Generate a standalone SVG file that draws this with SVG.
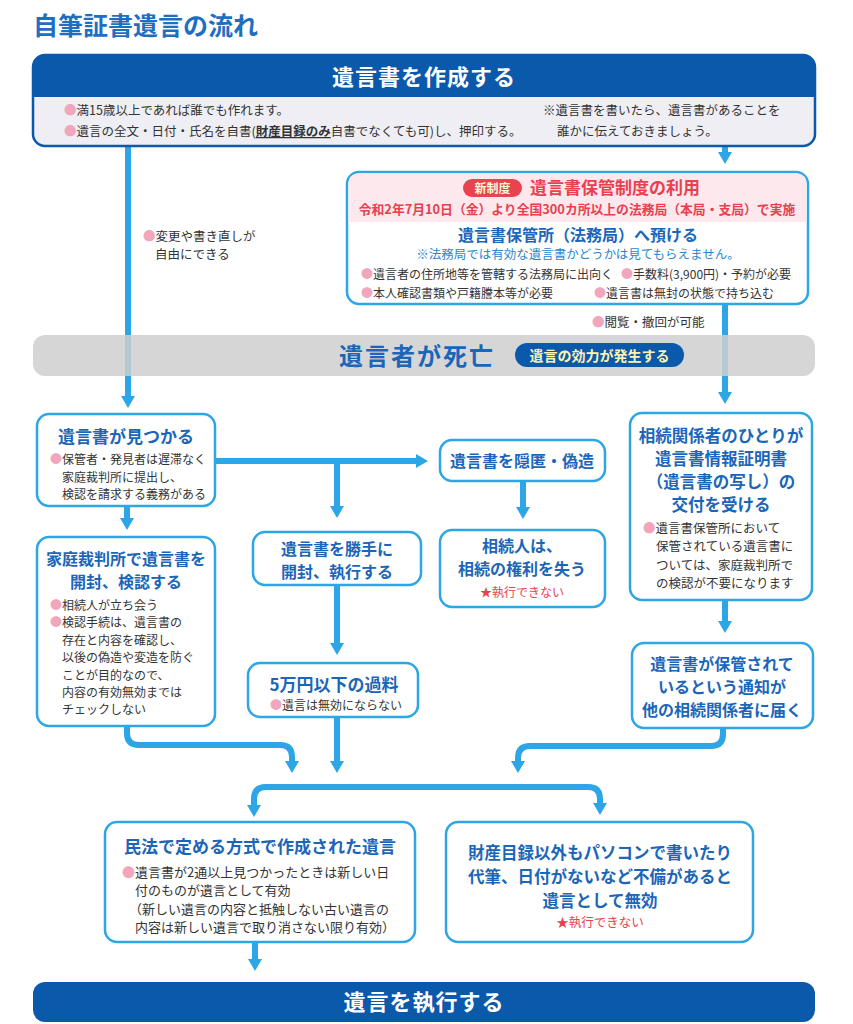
<svg xmlns="http://www.w3.org/2000/svg" width="853" height="1024" viewBox="0 0 853 1024">
<style>
text{font-family:"Noto Sans CJK JP","Noto Sans",sans-serif;}
.ttl{font-weight:bold;fill:#1b66b8;}
.body{font-size:12px;fill:#333333;}
.bul{fill:#f2a6bd;}
.red{fill:#e8404f;}
.box{fill:#ffffff;stroke:#2ca6e4;stroke-width:2.5;}
.con{fill:none;stroke:#2ca6e4;stroke-width:6;marker-end:url(#ah);}
</style>
<defs>
<marker id="ah" markerWidth="12" markerHeight="14" viewBox="0 -7 12 14" refX="1" refY="0" orient="auto" markerUnits="userSpaceOnUse">
<path d="M0,-7 L12,0 L0,7 z" fill="#2ca6e4"/>
</marker>
</defs>
<rect width="853" height="1024" fill="#ffffff"/>
<text x="33" y="35" font-size="25" font-weight="bold" fill="#1e6fc2">自筆証書遺言の流れ</text>

<g id="connectors">
<path class="con" d="M128,140 V397"/>
<path class="con" d="M725,140 V153"/>
<path class="con" d="M725,304 V393"/>
<path class="con" d="M213,461 H417"/>
<path class="con" d="M337,461 V507"/>
<path class="con" d="M127,506 V519"/>
<path class="con" d="M523,481 V508"/>
<path class="con" d="M337,585 V644"/>
<path class="con" d="M725,600 V622"/>
<path class="con" d="M127,724 V733 Q127,745 139,745 H280 Q292,745 292,757 V762"/>
<path class="con" d="M337,716 V762"/>
<path class="con" d="M723,727 V734 Q723,746 711,746 H530 Q518,746 518,758 V762"/>
<path class="con" d="M427,787 H588 Q600,787 600,799 V804"/>
<path class="con" d="M427,787 H266 Q254,787 254,799 V806"/>
<path class="con" d="M255,941 V960"/>
</g>

<g id="node-create">
<rect x="33" y="55" width="782" height="91" rx="12" fill="#eeeef4" stroke="#0b59ab" stroke-width="2.5"/>
<path d="M33,97 V67 Q33,55 45,55 H803 Q815,55 815,67 V97 Z" fill="#0b59ab"/>
<text x="424" y="85" font-size="22" font-weight="bold" fill="#ffffff" text-anchor="middle" letter-spacing="1">遺言書を作成する</text>
<text x="64" y="115" font-size="12.5" fill="#333"><tspan class="bul">●</tspan>満15歳以上であれば誰でも作れます。</text>
<text x="64" y="136" font-size="12.5" fill="#333"><tspan class="bul">●</tspan>遺言の全文・日付・氏名を自書(<tspan font-weight="bold" style="text-decoration:underline">財産目録のみ</tspan>自書でなくても可)し、押印する。</text>
<text x="543" y="115" font-size="12.5" fill="#333">※遺言書を書いたら、遺言書があることを</text>
<text x="557" y="136" font-size="12.5" fill="#333">誰かに伝えておきましょう。</text>
</g>

<g id="note-change">
<text x="143" y="241" font-size="12.5" fill="#333"><tspan class="bul">●</tspan>変更や書き直しが</text>
<text x="155" y="259" font-size="12.5" fill="#333">自由にできる</text>
</g>

<g id="node-storage">
<rect x="347" y="172" width="461" height="132" rx="12" class="box"/>
<path d="M348.5,222 V184 Q348.5,173.5 359,173.5 H796 Q806.5,173.5 806.5,184 V222 Z" fill="#fde8ee"/>
<rect x="463" y="179" width="59" height="18" rx="9" fill="#e8434f"/>
<text x="492.5" y="193" font-size="12" font-weight="bold" fill="#fff8d8" text-anchor="middle">新制度</text>
<text x="530" y="194" font-size="17" font-weight="bold" class="red">遺言書保管制度の利用</text>
<text x="577" y="214" font-size="12.8" font-weight="bold" class="red" text-anchor="middle">令和2年7月10日（金）より全国300カ所以上の法務局（本局・支局）で実施</text>
<text x="578" y="241" font-size="16" class="ttl" text-anchor="middle">遺言書保管所（法務局）へ預ける</text>
<text x="578" y="259" font-size="12.5" fill="#2a86d0" text-anchor="middle">※法務局では有効な遺言書かどうかは見てもらえません。</text>
<text x="361" y="279" font-size="12" fill="#333"><tspan class="bul">●</tspan>遺言者の住所地等を管轄する法務局に出向く</text>
<text x="621" y="279" font-size="12" fill="#333"><tspan class="bul">●</tspan>手数料(3,900円)・予約が必要</text>
<text x="361" y="298" font-size="12" fill="#333"><tspan class="bul">●</tspan>本人確認書類や戸籍謄本等が必要</text>
<text x="594" y="298" font-size="12" fill="#333"><tspan class="bul">●</tspan>遺言書は無封の状態で持ち込む</text>
</g>

<g id="note-view">
<text x="592" y="327" font-size="12.5" fill="#333"><tspan class="bul">●</tspan>閲覧・撤回が可能</text>
</g>

<g id="node-death">
<rect x="33" y="335" width="782" height="41" rx="12" fill="#cfcfcf" fill-opacity="0.85"/>
<text x="417" y="365" font-size="24" class="ttl" text-anchor="middle" letter-spacing="2">遺言者が死亡</text>
<rect x="515" y="343" width="169" height="24" rx="12" fill="#0b59ab"/>
<text x="599.5" y="360.5" font-size="14" font-weight="bold" fill="#fff3b0" text-anchor="middle">遺言の効力が発生する</text>
</g>

<g id="node-found">
<rect x="37" y="414" width="178" height="92" rx="12" class="box"/>
<text x="126" y="443" font-size="17" class="ttl" text-anchor="middle">遺言書が見つかる</text>
<text x="50" y="464" class="body"><tspan class="bul">●</tspan>保管者・発見者は遅滞なく</text>
<text x="62" y="482" class="body">家庭裁判所に提出し、</text>
<text x="62" y="499" class="body">検認を請求する義務がある</text>
</g>

<g id="node-court">
<rect x="37" y="537" width="178" height="189" rx="12" class="box"/>
<text x="126" y="565" font-size="16" class="ttl" text-anchor="middle">家庭裁判所で遺言書を</text>
<text x="126" y="588" font-size="16" class="ttl" text-anchor="middle">開封、検認する</text>
<text x="50" y="610" class="body"><tspan class="bul">●</tspan>相続人が立ち会う</text>
<text x="50" y="627" class="body"><tspan class="bul">●</tspan>検認手続は、遺言書の</text>
<text x="62" y="645" class="body">存在と内容を確認し、</text>
<text x="62" y="662" class="body">以後の偽造や変造を防ぐ</text>
<text x="62" y="680" class="body">ことが目的なので、</text>
<text x="62" y="697" class="body">内容の有効無効までは</text>
<text x="62" y="714" class="body">チェックしない</text>
</g>

<g id="node-open">
<rect x="253" y="532" width="168" height="53" rx="12" class="box"/>
<text x="337" y="555" font-size="16" class="ttl" text-anchor="middle">遺言書を勝手に</text>
<text x="337" y="578" font-size="16" class="ttl" text-anchor="middle">開封、執行する</text>
</g>

<g id="node-fine">
<rect x="248" y="663" width="170" height="54" rx="12" class="box"/>
<text x="334" y="691" font-size="17" class="ttl" text-anchor="middle">5万円以下の過料</text>
<text x="336" y="710" class="body" text-anchor="middle"><tspan class="bul">●</tspan>遺言は無効にならない</text>
</g>

<g id="node-hide">
<rect x="440" y="440" width="165" height="41" rx="12" class="box"/>
<text x="522" y="467" font-size="16" class="ttl" text-anchor="middle">遺言書を隠匿・偽造</text>
</g>

<g id="node-lose">
<rect x="440" y="530" width="165" height="77" rx="12" class="box"/>
<text x="522" y="552" font-size="16" class="ttl" text-anchor="middle">相続人は、</text>
<text x="522" y="575" font-size="16" class="ttl" text-anchor="middle">相続の権利を失う</text>
<text x="522" y="597" font-size="12" class="red" text-anchor="middle">★執行できない</text>
</g>

<g id="node-cert">
<rect x="630" y="413" width="182" height="187" rx="12" class="box"/>
<text x="721" y="442" font-size="16.5" class="ttl" text-anchor="middle">相続関係者のひとりが</text>
<text x="721" y="465" font-size="16.5" class="ttl" text-anchor="middle">遺言書情報証明書</text>
<text x="721" y="488" font-size="16.5" class="ttl" text-anchor="middle">（遺言書の写し）の</text>
<text x="721" y="511" font-size="16.5" class="ttl" text-anchor="middle">交付を受ける</text>
<text x="643" y="533" font-size="12.5" fill="#333"><tspan class="bul">●</tspan>遺言書保管所において</text>
<text x="656" y="551" font-size="12.5" fill="#333">保管されている遺言書に</text>
<text x="656" y="570" font-size="12.5" fill="#333">ついては、家庭裁判所で</text>
<text x="656" y="588" font-size="12.5" fill="#333">の検認が不要になります</text>
</g>

<g id="node-notice">
<rect x="632" y="643" width="181" height="85" rx="12" class="box"/>
<text x="722" y="670" font-size="16" class="ttl" text-anchor="middle">遺言書が保管されて</text>
<text x="722" y="693" font-size="16" class="ttl" text-anchor="middle">いるという通知が</text>
<text x="722" y="716" font-size="16" class="ttl" text-anchor="middle">他の相続関係者に届く</text>
</g>

<g id="node-valid">
<rect x="105" y="822" width="310" height="120" rx="12" class="box"/>
<text x="260" y="853" font-size="17" class="ttl" text-anchor="middle">民法で定める方式で作成された遺言</text>
<text x="122" y="877" font-size="13" fill="#333"><tspan class="bul">●</tspan>遺言書が2通以上見つかったときは新しい日</text>
<text x="135" y="895" font-size="13" fill="#333">付のものが遺言として有効</text>
<text x="129" y="914" font-size="13" fill="#333">（新しい遺言の内容と抵触しない古い遺言の</text>
<text x="135" y="932" font-size="13" fill="#333">内容は新しい遺言で取り消さない限り有効）</text>
</g>

<g id="node-invalid">
<rect x="446" y="822" width="307" height="120" rx="12" class="box"/>
<text x="600" y="859" font-size="16.5" class="ttl" text-anchor="middle">財産目録以外もパソコンで書いたり</text>
<text x="600" y="883" font-size="16.5" class="ttl" text-anchor="middle">代筆、日付がないなど不備があると</text>
<text x="600" y="907" font-size="16.5" class="ttl" text-anchor="middle">遺言として無効</text>
<text x="600" y="927" font-size="12.5" class="red" text-anchor="middle">★執行できない</text>
</g>

<g id="node-execute">
<rect x="33" y="982" width="782" height="40" rx="12" fill="#0b59ab"/>
<text x="424" y="1010" font-size="22" font-weight="bold" fill="#ffffff" text-anchor="middle" letter-spacing="1">遺言を執行する</text>
</g>
</svg>
